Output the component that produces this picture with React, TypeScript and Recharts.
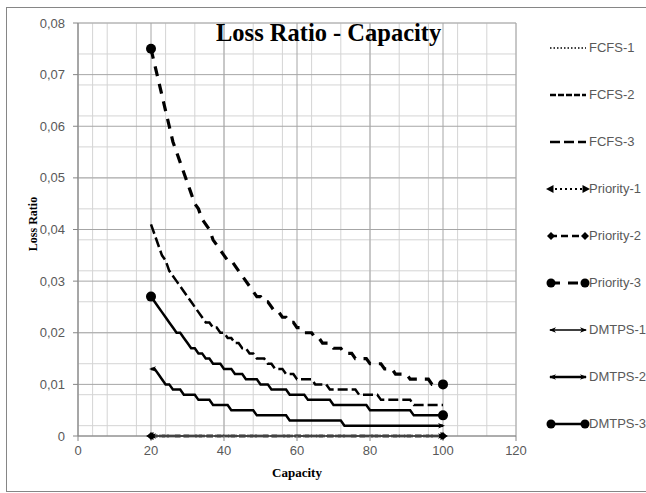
import { LineChart, Line, XAxis, YAxis, CartesianGrid } from 'recharts';

// capacity values on the x axis
const capacity = [
  20, 21, 22, 23, 24, 25, 26, 27, 28, 29,
  30, 31, 32, 33, 34, 35, 36, 37, 38, 39,
  40, 41, 42, 43, 44, 45, 46, 47, 48, 49,
  50, 51, 52, 53, 54, 55, 56, 57, 58, 59,
  60, 61, 62, 63, 64, 65, 66, 67, 68, 69,
  70, 71, 72, 73, 74, 75, 76, 77, 78, 79,
  80, 81, 82, 83, 84, 85, 86, 87, 88, 89,
  90, 91, 92, 93, 94, 95, 96, 97, 98, 99,
  100,
];

const fcfs1 = [
  0, 0, 0, 0, 0, 0, 0, 0, 0, 0, 0, 0, 0, 0, 0, 0, 0, 0, 0, 0,
  0, 0, 0, 0, 0, 0, 0, 0, 0, 0, 0, 0, 0, 0, 0, 0, 0, 0, 0, 0,
  0, 0, 0, 0, 0, 0, 0, 0, 0, 0, 0, 0, 0, 0, 0, 0, 0, 0, 0, 0,
  0, 0, 0, 0, 0, 0, 0, 0, 0, 0, 0, 0, 0, 0, 0, 0, 0, 0, 0, 0, 0,
];
const fcfs2 = [
  0, 0, 0, 0, 0, 0, 0, 0, 0, 0, 0, 0, 0, 0, 0, 0, 0, 0, 0, 0,
  0, 0, 0, 0, 0, 0, 0, 0, 0, 0, 0, 0, 0, 0, 0, 0, 0, 0, 0, 0,
  0, 0, 0, 0, 0, 0, 0, 0, 0, 0, 0, 0, 0, 0, 0, 0, 0, 0, 0, 0,
  0, 0, 0, 0, 0, 0, 0, 0, 0, 0, 0, 0, 0, 0, 0, 0, 0, 0, 0, 0, 0,
];
const fcfs3 = [
  0.041, 0.039, 0.037, 0.035, 0.034, 0.032, 0.031, 0.030, 0.029, 0.028,
  0.027, 0.026, 0.025, 0.024, 0.023, 0.022, 0.022, 0.021, 0.021, 0.020,
  0.020, 0.019, 0.019, 0.018, 0.018, 0.017, 0.017, 0.016, 0.016, 0.015,
  0.015, 0.015, 0.014, 0.014, 0.013, 0.013, 0.013, 0.012, 0.012, 0.012,
  0.011, 0.011, 0.011, 0.011, 0.011, 0.010, 0.010, 0.010, 0.010, 0.009,
  0.009, 0.009, 0.009, 0.009, 0.009, 0.009, 0.009, 0.008, 0.008, 0.008,
  0.008, 0.008, 0.008, 0.007, 0.007, 0.007, 0.007, 0.007, 0.007, 0.007,
  0.007, 0.007, 0.006, 0.006, 0.006, 0.006, 0.006, 0.006, 0.006, 0.006,
  0.006,
];
const priority1 = [
  0, 0, 0, 0, 0, 0, 0, 0, 0, 0, 0, 0, 0, 0, 0, 0, 0, 0, 0, 0,
  0, 0, 0, 0, 0, 0, 0, 0, 0, 0, 0, 0, 0, 0, 0, 0, 0, 0, 0, 0,
  0, 0, 0, 0, 0, 0, 0, 0, 0, 0, 0, 0, 0, 0, 0, 0, 0, 0, 0, 0,
  0, 0, 0, 0, 0, 0, 0, 0, 0, 0, 0, 0, 0, 0, 0, 0, 0, 0, 0, 0, 0,
];
const priority2 = [
  0, 0, 0, 0, 0, 0, 0, 0, 0, 0, 0, 0, 0, 0, 0, 0, 0, 0, 0, 0,
  0, 0, 0, 0, 0, 0, 0, 0, 0, 0, 0, 0, 0, 0, 0, 0, 0, 0, 0, 0,
  0, 0, 0, 0, 0, 0, 0, 0, 0, 0, 0, 0, 0, 0, 0, 0, 0, 0, 0, 0,
  0, 0, 0, 0, 0, 0, 0, 0, 0, 0, 0, 0, 0, 0, 0, 0, 0, 0, 0, 0, 0,
];
const priority3 = [
  0.075, 0.072, 0.069, 0.066, 0.063, 0.060, 0.057, 0.055, 0.053, 0.051,
  0.049, 0.047, 0.045, 0.044, 0.042, 0.041, 0.040, 0.038, 0.037, 0.036,
  0.035, 0.034, 0.034, 0.033, 0.032, 0.031, 0.030, 0.029, 0.028, 0.027,
  0.027, 0.026, 0.026, 0.025, 0.024, 0.024, 0.023, 0.023, 0.022, 0.022,
  0.021, 0.021, 0.020, 0.020, 0.020, 0.019, 0.019, 0.018, 0.018, 0.018,
  0.017, 0.017, 0.017, 0.016, 0.016, 0.016, 0.015, 0.015, 0.015, 0.015,
  0.014, 0.014, 0.014, 0.014, 0.013, 0.013, 0.013, 0.012, 0.012, 0.012,
  0.012, 0.011, 0.011, 0.011, 0.011, 0.011, 0.011, 0.010, 0.010, 0.010,
  0.010,
];
const dmtps1 = [
  0, 0, 0, 0, 0, 0, 0, 0, 0, 0, 0, 0, 0, 0, 0, 0, 0, 0, 0, 0,
  0, 0, 0, 0, 0, 0, 0, 0, 0, 0, 0, 0, 0, 0, 0, 0, 0, 0, 0, 0,
  0, 0, 0, 0, 0, 0, 0, 0, 0, 0, 0, 0, 0, 0, 0, 0, 0, 0, 0, 0,
  0, 0, 0, 0, 0, 0, 0, 0, 0, 0, 0, 0, 0, 0, 0, 0, 0, 0, 0, 0, 0,
];
const dmtps2 = [
  0.013, 0.013, 0.012, 0.011, 0.010, 0.010, 0.009, 0.009, 0.009, 0.008,
  0.008, 0.008, 0.008, 0.007, 0.007, 0.007, 0.007, 0.006, 0.006, 0.006,
  0.006, 0.006, 0.005, 0.005, 0.005, 0.005, 0.005, 0.005, 0.005, 0.004,
  0.004, 0.004, 0.004, 0.004, 0.004, 0.004, 0.004, 0.004, 0.003, 0.003,
  0.003, 0.003, 0.003, 0.003, 0.003, 0.003, 0.003, 0.003, 0.003, 0.003,
  0.003, 0.003, 0.003, 0.002, 0.002, 0.002, 0.002, 0.002, 0.002, 0.002,
  0.002, 0.002, 0.002, 0.002, 0.002, 0.002, 0.002, 0.002, 0.002, 0.002,
  0.002, 0.002, 0.002, 0.002, 0.002, 0.002, 0.002, 0.002, 0.002, 0.002,
  0.002,
];
const dmtps3 = [
  0.027, 0.026, 0.025, 0.024, 0.023, 0.022, 0.021, 0.020, 0.020, 0.019,
  0.018, 0.017, 0.017, 0.016, 0.016, 0.015, 0.015, 0.014, 0.014, 0.014,
  0.013, 0.013, 0.013, 0.012, 0.012, 0.012, 0.011, 0.011, 0.011, 0.011,
  0.010, 0.010, 0.010, 0.009, 0.009, 0.009, 0.009, 0.009, 0.008, 0.008,
  0.008, 0.008, 0.008, 0.007, 0.007, 0.007, 0.007, 0.007, 0.007, 0.007,
  0.006, 0.006, 0.006, 0.006, 0.006, 0.006, 0.006, 0.006, 0.006, 0.006,
  0.005, 0.005, 0.005, 0.005, 0.005, 0.005, 0.005, 0.005, 0.005, 0.005,
  0.005, 0.005, 0.004, 0.004, 0.004, 0.004, 0.004, 0.004, 0.004, 0.004,
  0.004,
];

const xTicks = [0, 20, 40, 60, 80, 100, 120];
const yTicks = [0, 0.01, 0.02, 0.03, 0.04, 0.05, 0.06, 0.07, 0.08];

type EndType = 'none' | 'circle' | 'triangle' | 'diamond' | 'arrow';

const series = [
  { key: 'fcfs1', name: 'FCFS-1', values: fcfs1, width: 1.5, dash: '1.5 2', end: 'none' as EndType, size: 0 },
  { key: 'fcfs2', name: 'FCFS-2', values: fcfs2, width: 2.5, dash: '6 2', end: 'none' as EndType, size: 0 },
  { key: 'fcfs3', name: 'FCFS-3', values: fcfs3, width: 2.5, dash: '10 4', end: 'none' as EndType, size: 0 },
  { key: 'priority1', name: 'Priority-1', values: priority1, width: 2, dash: '2 3', end: 'triangle' as EndType, size: 5 },
  { key: 'priority2', name: 'Priority-2', values: priority2, width: 2.5, dash: '7 4', end: 'diamond' as EndType, size: 4 },
  { key: 'priority3', name: 'Priority-3', values: priority3, width: 3.2, dash: '10 8', end: 'circle' as EndType, size: 5 },
  { key: 'dmtps1', name: 'DMTPS-1', values: dmtps1, width: 1.5, dash: undefined, end: 'arrow' as EndType, size: 5 },
  { key: 'dmtps2', name: 'DMTPS-2', values: dmtps2, width: 2.5, dash: undefined, end: 'arrow' as EndType, size: 5 },
  { key: 'dmtps3', name: 'DMTPS-3', values: dmtps3, width: 2.5, dash: undefined, end: 'circle' as EndType, size: 5 },
];

const data = capacity.map((c, i) => {
  const row: Record<string, number> = { capacity: c };
  series.forEach((s) => {
    row[s.key] = s.values[i];
  });
  return row;
});

// excel-style minor gridlines
const minorX = Array.from({ length: 31 }, (_, i) => i * 4);
const minorY = Array.from({ length: 41 }, (_, i) => +(i * 0.002).toFixed(3));

const fmt = (v: number) => (v === 0 ? '0' : v.toFixed(2).replace('.', ','));

function endMark(type: EndType, x: number, y: number, dir: number, s: number) {
  if (type === 'circle') return <circle cx={x} cy={y} r={s} fill="#000" />;
  if (type === 'diamond')
    return <polygon points={`${x - s},${y} ${x},${y - s} ${x + s},${y} ${x},${y + s}`} fill="#000" />;
  if (type === 'triangle')
    return (
      <polygon
        points={`${x + dir * s},${y} ${x - dir * s * 0.5},${y - s * 0.8} ${x - dir * s * 0.5},${y + s * 0.8}`}
        fill="#000"
      />
    );
  if (type === 'arrow')
    return (
      <polygon
        points={`${x + dir * s * 0.4},${y} ${x - dir * s},${y - s * 0.55} ${x - dir * s * 0.6},${y} ${x - dir * s},${y + s * 0.55}`}
        fill="#000"
      />
    );
  return null;
}

const makeDot = (s: (typeof series)[number]) => (props: any) => {
  const { cx, cy, index } = props;
  const last = capacity.length - 1;
  const k = `dot-${s.key}-${index}`;
  if (s.end === 'none' || (index !== 0 && index !== last) || cx == null) return <g key={k} />;
  return <g key={k}>{endMark(s.end, cx, cy, index === 0 ? -1 : 1, s.size)}</g>;
};

const legendTop = 48;
const legendStep = 47;

export default function App() {
  return (
    <div
      style={{
        position: 'absolute',
        left: 0,
        top: 0,
        width: 646,
        height: 493,
        overflow: 'hidden',
        background: '#fff',
      }}
    >
      <div
        style={{
          position: 'absolute',
          left: 6,
          top: 7,
          width: 650,
          height: 483,
          borderLeft: '1px solid #868686',
          borderTop: '1px solid #868686',
          borderBottom: '1px solid #868686',
        }}
      />
      <LineChart width={646} height={493} data={data} margin={{ top: 23, right: 130, bottom: 27, left: 8 }}>
        <CartesianGrid stroke="#d4d4d4" verticalValues={minorX} horizontalValues={minorY} />
        <CartesianGrid stroke="#a6a6a6" verticalValues={xTicks} horizontalValues={yTicks} />
        <XAxis
          dataKey="capacity"
          type="number"
          domain={[0, 120]}
          ticks={xTicks}
          height={30}
          tickSize={5}
          tickMargin={5}
          stroke="#868686"
          tick={{ fill: '#595959', fontSize: 13, fontFamily: 'Liberation Sans' }}
        />
        <YAxis
          type="number"
          domain={[0, 0.08]}
          ticks={yTicks}
          width={70}
          tickSize={5}
          tickMargin={8}
          stroke="#868686"
          tickFormatter={fmt}
          tick={{ fill: '#595959', fontSize: 13, fontFamily: 'Liberation Sans' }}
        />
        {series.map((s) => (
          <Line
            key={s.key}
            dataKey={s.key}
            name={s.name}
            type="linear"
            stroke="#000"
            strokeWidth={s.width}
            strokeDasharray={s.dash}
            dot={makeDot(s)}
            activeDot={false}
            isAnimationActive={false}
          />
        ))}
      </LineChart>
      <div
        style={{
          position: 'absolute',
          left: 216,
          top: 21,
          fontFamily: 'Liberation Serif',
          fontWeight: 'bold',
          fontSize: 24.5,
          lineHeight: '24px',
          whiteSpace: 'nowrap',
        }}
      >
        Loss Ratio - Capacity
      </div>
      <div
        style={{
          position: 'absolute',
          left: 33,
          top: 224,
          transform: 'translate(-50%, -50%) rotate(-90deg)',
          fontFamily: 'Liberation Serif',
          fontWeight: 'bold',
          fontSize: 12,
          whiteSpace: 'nowrap',
        }}
      >
        Loss Ratio
      </div>
      <div
        style={{
          position: 'absolute',
          left: 297,
          top: 473,
          transform: 'translate(-50%, -50%)',
          fontFamily: 'Liberation Serif',
          fontWeight: 'bold',
          fontSize: 13,
          whiteSpace: 'nowrap',
        }}
      >
        Capacity
      </div>
      {series.map((s, i) => {
        const y = legendTop + i * legendStep;
        const m = s.end === 'circle' ? 4.5 : s.size;
        return (
          <div key={s.key} style={{ position: 'absolute', left: 546, top: y - 7, height: 14 }}>
            <svg width={44} height={14} style={{ position: 'absolute', left: 0, top: 0 }}>
              <line x1={4} y1={7} x2={40} y2={7} stroke="#000" strokeWidth={s.width} strokeDasharray={s.dash} />
              {s.end !== 'none' && endMark(s.end, 5, 7, -1, m)}
              {s.end !== 'none' && endMark(s.end, 39, 7, 1, m)}
            </svg>
            <span
              style={{
                position: 'absolute',
                left: 43,
                top: -1,
                fontFamily: 'Liberation Sans',
                fontSize: 13,
                lineHeight: '16px',
                color: '#595959',
                whiteSpace: 'nowrap',
              }}
            >
              {s.name}
            </span>
          </div>
        );
      })}
    </div>
  );
}
